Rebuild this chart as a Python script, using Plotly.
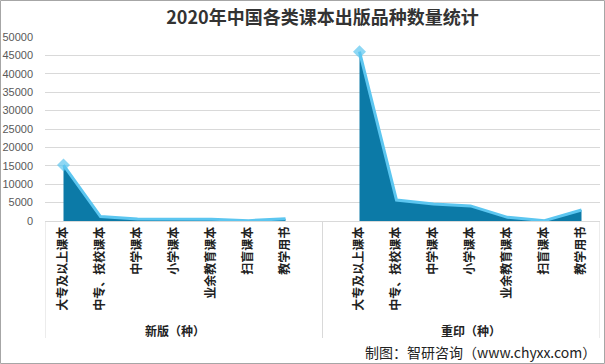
import plotly.graph_objects as go

categories = ["大专及以上课本", "中专、技校课本", "中学课本", "小学课本", "业余教育课本", "扫盲课本", "教学用书"]
groups = ["新版（种）", "重印（种）"]
new_values = [15200, 1200, 550, 500, 500, 100, 600]
reprint_values = [46000, 5700, 4600, 4100, 1000, 100, 3000]
y_ticks = [0, 5000, 10000, 15000, 20000, 25000, 30000, 35000, 40000, 45000, 50000]

FILL = "#0C7AA7"
LINE = "#5CC6F0"

n = len(categories)
x_new = list(range(n))
x_rep = [i + n + 1 for i in range(n)]
gap_x = n  # empty slot between the groups

fig = go.Figure()
for xs, ys in [(x_new, new_values), (x_rep, reprint_values)]:
    fig.add_trace(go.Scatter(
        x=xs, y=ys, mode="lines+markers", fill="tozeroy",
        fillcolor=FILL, line=dict(color=LINE, width=3),
        marker=dict(symbol="diamond", size=[10] + [0] * (n - 1), color=LINE,
                    line=dict(width=0)),
        showlegend=False, hoverinfo="skip"))

W, H = 605, 364
ml, mr, mt, mb = 45, 5, 37, 143
pw = W - ml - mr
ph = H - mt - mb


def py(pix):
    """pixel row -> paper y"""
    return (H - mb - pix) / ph


shapes = [
    dict(type="rect", xref="paper", yref="paper",
         x0=-ml / pw + 0.5 / pw, x1=1 + (mr - 0.5) / pw,
         y0=py(H - 0.5), y1=py(0.5),
         line=dict(color="#A6A6A6", width=1)),
]
for xv in [-0.5, gap_x, 2 * n + 0.5]:
    shapes.append(dict(type="line", xref="x", yref="paper",
                       x0=xv, x1=xv, y0=0, y1=py(338),
                       line=dict(color="#D9D9D9", width=1)))

gfont = dict(size=12, color="#222", family="Noto Sans CJK SC")
annotations = [
    dict(x=sum(x_new) / n, y=py(330), xref="x", yref="paper", text="<b>%s</b>" % groups[0],
         showarrow=False, font=gfont, xanchor="center", yanchor="middle"),
    dict(x=sum(x_rep) / n, y=py(330), xref="x", yref="paper", text="<b>%s</b>" % groups[1],
         showarrow=False, font=gfont, xanchor="center", yanchor="middle"),
    dict(x=1 - 2 / pw, y=py(352), xref="paper", yref="paper",
         text="制图：智研咨询（www.chyxx.com）",
         showarrow=False, font=dict(size=14, color="#222", family="Noto Sans CJK SC"),
         xanchor="right", yanchor="middle"),
]

fig.update_layout(
    width=W, height=H,
    margin=dict(l=ml, r=mr, t=mt, b=mb),
    paper_bgcolor="white", plot_bgcolor="white",
    title=dict(text="<b>2020年中国各类课本出版品种数量统计</b>", x=0.5, xref="paper",
               y=1 - 18 / H, yanchor="middle",
               font=dict(size=18, color="#333", family="Noto Sans CJK SC")),
    xaxis=dict(range=[-0.5, 2 * n + 0.5], tickmode="array", automargin=False,
               tickvals=x_new + x_rep, ticktext=["<b>%s</b>" % c for c in categories + categories],
               tickangle=-90, showgrid=False, zeroline=False,
               showline=True, linecolor="#D9D9D9", linewidth=1,
               ticks="", tickfont=dict(size=12, color="#222", family="Noto Sans CJK SC")),
    yaxis=dict(range=[0, 50000], tickmode="array", tickvals=y_ticks, automargin=False,
               ticktext=[str(v) for v in y_ticks], ticklabelstandoff=11,
               showgrid=True, gridcolor="#D9D9D9", gridwidth=1, zeroline=False,
               showline=False, ticks="",
               tickfont=dict(size=11, color="#595959", family="Liberation Sans")),
    shapes=shapes, annotations=annotations,
)

fig.write_html("out.html", config={"displayModeBar": False},
               post_script="document.body.style.margin='0';")
